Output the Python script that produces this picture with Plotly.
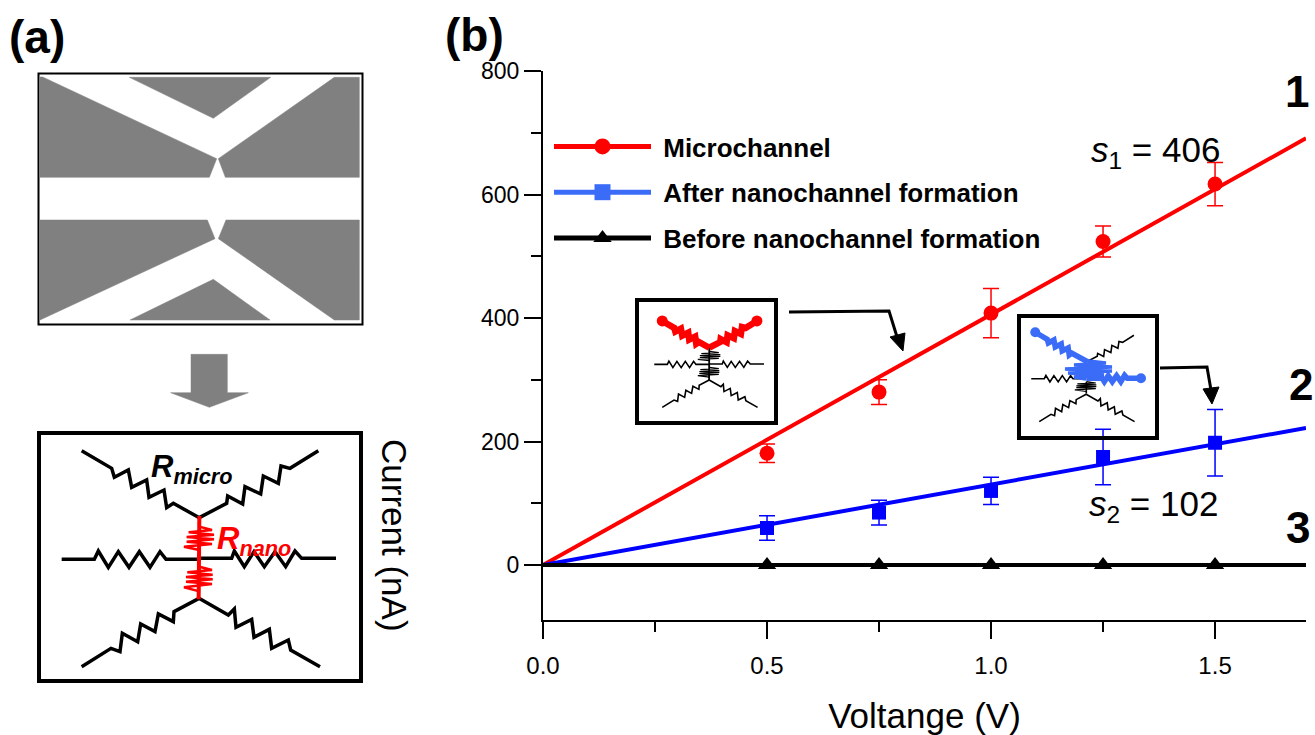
import plotly.graph_objects as go

W, H = 1315, 735
# ---- data ----
voltage = [0.5, 0.75, 1.0, 1.25, 1.5]
micro_current = [181, 280, 408, 524, 617]
micro_err = [15, 20, 40, 25, 35]
after_current = [60, 85, 120, 175, 198]
after_err = [20, 20, 22, 45, 54]
before_current = [0, 0, 0, 0, 0]
fit_x = [0, 1.703]
micro_fit = [0, 691]
after_fit = [0, 222]
before_fit = [0, 0]
legend_names = ["Microchannel", "After nanochannel formation", "Before nanochannel formation"]

RED, BLUE, LBLUE, GRAY = "#ff0000", "#0000ff", "#3a6cf8", "#808080"

# ---- schematic geometry (panel a, zoom units) ----
chip_polys = [
    [(120,231),(128,231),(650,476),(628,532),(120,532)],
    [(388,232),(812,232),(640,355)],
    [(1003,232),(1078,232),(1078,532),(676,532),(655,476)],
    [(120,660),(622,660),(645,716),(120,960)],
    [(390,960),(640,838),(810,960)],
    [(678,660),(1078,660),(1078,960),(1003,960),(655,716)],
]
arrow_poly = [(573,1063),(682,1063),(682,1178),(745,1178),(628,1222),(512,1178),(573,1178)]
res_tl = [(245,182),(335,235),(343,262),(385,240),(395,292),(440,270),(447,322),(492,300),(500,353),(520,340),(598,383)]
res_tr = [(598,383),(680,340),(683,318),(728,342),(735,290),(782,312),(790,258),(835,280),(843,228),(870,235),(955,182)]
res_l = [(185,508),(283,508),(295,483),(325,532),(355,485),(387,532),(418,485),(450,532),(480,485),(498,508),(598,508)]
res_r = [(598,505),(695,505),(703,483),(733,530),(762,485),(793,530),(825,485),(857,530),(885,483),(905,505),(1008,505)]
res_bl = [(245,830),(333,775),(360,785),(367,730),(413,755),(422,702),(465,725),(475,672),(520,695),(522,665),(597,625)]
res_br = [(597,625),(685,675),(703,657),(708,712),(755,688),(762,742),(808,718),(815,775),(865,750),(872,780),(960,830)]
nano_trunk = [(598,378),(596,628)]
nano_a = [(598,410),(636,420),(566,427),(642,434),(560,441),(642,448),(560,455),(636,462),(552,470),(598,480)]
nano_b = [(598,530),(636,540),(562,547),(638,554),(558,561),(638,568),(558,575),(636,582),(552,592),(598,604)]

def xf(v): return v / W
def yf(v): return 1 - v / H
def z1(p): return (p[0] / 3, p[1] / 3)
def z2(p): return (p[0] / 3, 390 + p[1] / 3)

shapes = []
def path(pts, color="black", width=2, fill=None, close=False):
    d = "M" + "L".join(f"{xf(x):.5f},{yf(y):.5f}" for x, y in pts) + ("Z" if close else "")
    s = dict(type="path", path=d, xref="paper", yref="paper", line=dict(color=color, width=width))
    if fill:
        s["fillcolor"] = fill
    shapes.append(s)
def rect(x0, y0, x1, y1, width=4, color="black"):
    shapes.append(dict(type="rect", xref="paper", yref="paper", x0=xf(x0), x1=xf(x1), y0=yf(y0), y1=yf(y1),
                       line=dict(color=color, width=width)))
def dot(x, y, r, color):
    shapes.append(dict(type="circle", xref="paper", yref="paper", x0=xf(x-r), x1=xf(x+r), y0=yf(y+r), y1=yf(y-r),
                       line=dict(color=color, width=0), fillcolor=color))

# panel a: chip
rect(38.5, 73.5, 362.5, 324.5, 2)
for poly in chip_polys:
    path([z1(p) for p in poly], GRAY, 0.5, GRAY, True)
path([z1(p) for p in arrow_poly], GRAY, 0.5, GRAY, True)
# panel a: circuit
rect(39, 433, 361, 681, 4)
for r in (res_tl, res_tr, res_l, res_r, res_bl, res_br):
    path([z2(p) for p in r], "black", 3.5)
path([z2(p) for p in nano_trunk], RED, 4)
path([z2(p) for p in nano_a], RED, 2.5)
path([z2(p) for p in nano_b], RED, 2.5)

def inset(p, cx, cy, s=0.4, sx=None):
    px, py = z2(p)
    return (cx + (px - 199.3) * (sx or s), cy + (py - 558.3) * s)

# inset 1
c1 = (709.3, 364)
rect(637, 300, 776, 423, 4)
for r in (res_l, res_r, res_bl, res_br):
    path([inset(p, *c1) for p in r], "black", 1.6)
path([inset(p, *c1) for p in nano_trunk], "black", 1.8)
for n in (nano_a, nano_b):
    path([inset(p, *c1, sx=0.75) for p in n], "black", 1.2)
for r in (res_tl, res_tr):
    pts = [inset(p, *c1) for p in r]
    path(pts, RED, 6.5)
    tip = pts[0] if r is res_tl else pts[-1]
    dot(tip[0], tip[1], 5.5, RED)
path([(789,312),(889,311),(898,340)], "black", 3)
path([(890,337),(905,333),(903,351)], "black", 1, "black", True)

# inset 2
c2 = (1086.3, 378.3)
rect(1019, 316, 1157, 438, 4)
for r in (res_tr, res_l, res_bl, res_br):
    path([inset(p, *c2) for p in r], "black", 1.6)
path([inset(p, *c2, sx=0.75) for p in nano_b], "black", 1.2)
path([inset(p, *c2) for p in [(598,532),(598,620)]], "black", 1.6)
tl2 = [inset(p, *c2) for p in res_tl]
tl2 = [(x - 4, y - 3) for x, y in tl2]
path(tl2[:-1] + [(1088, 362)], LBLUE, 5.5)
dot(tl2[0][0], tl2[0][1], 5, LBLUE)
r2 = [inset(p, *c2) for p in res_r]
path(r2[:-1] + [(1141, r2[-1][1])], LBLUE, 5.5)
dot(1141, r2[-1][1], 5, LBLUE)
path([(1088,361),(1106,363),(1074,365),(1112,367),(1065,369),(1112,371),(1068,373),(1104,375),(1074,377),(1086,379)], LBLUE, 3.5)
path([(1160,368),(1207,367),(1211,390)], "black", 3)
path([(1203,389),(1219,387),(1212,404)], "black", 1, "black", True)

# ---- annotations ----
def note(text, x, y, size, color="black", xanchor="left", angle=0, bold=False):
    return dict(text=text, x=xf(x), y=yf(y), xref="paper", yref="paper", showarrow=False, textangle=angle,
                xanchor=xanchor, yanchor="middle", borderpad=0,
                font=dict(family="Liberation Sans", size=size, color=color, weight=700 if bold else 400))

annotations = [
    note("(a)", 8, 37, 46, bold=True),
    note("(b)", 444, 35, 46, bold=True),
    note("1", 1297, 92, 44, xanchor="center", bold=True),
    note("2", 1301, 384, 44, xanchor="center", bold=True),
    note("3", 1298, 527, 44, xanchor="center", bold=True),
    note("<i>s</i><sub>1</sub> = 406", 1090, 152, 35),
    note("<i>s</i><sub>2</sub> = 102", 1088, 506, 35),
    note("<i>R<sub>micro</sub></i>", 150, 469, 31, bold=True),
    note("<i>R<sub>nano</sub></i>", 216, 541, 31, RED, bold=True),
    note("Current (nA)", 395, 535, 35, xanchor="center", angle=90),
]

# ---- traces ----
fig = go.Figure()
for fit, col in ((micro_fit, RED), (after_fit, BLUE), (before_fit, "black")):
    fig.add_trace(go.Scatter(x=fit_x, y=fit, mode="lines", line=dict(color=col, width=4), showlegend=False, hoverinfo="skip"))
fig.add_trace(go.Scatter(x=voltage, y=micro_current, mode="markers", showlegend=False,
                         marker=dict(symbol="circle", size=15, color=RED),
                         error_y=dict(type="data", array=micro_err, color=RED, thickness=1.5, width=8)))
fig.add_trace(go.Scatter(x=voltage, y=after_current, mode="markers", showlegend=False,
                         marker=dict(symbol="square", size=14, color=BLUE),
                         error_y=dict(type="data", array=after_err, color=BLUE, thickness=1.5, width=8)))
fig.add_trace(go.Scatter(x=voltage, y=before_current, mode="markers", showlegend=False,
                         marker=dict(symbol="triangle-up", size=16, color="black")))
# legend entries
for name, col, sym in zip(legend_names, (RED, LBLUE, "black"), ("circle", "square", "triangle-up")):
    fig.add_trace(go.Scatter(x=[None], y=[None], mode="lines+markers", name="\u00a0" + name, legendgroup=name,
                             line=dict(color=col, width=5), marker=dict(symbol=sym, size=18, color=col)))

axis_common = dict(showgrid=False, zeroline=False, showline=True, linecolor="black", linewidth=2,
                   ticks="outside", ticklen=17, tickwidth=2, tickcolor="black")
fig.update_layout(
    width=W, height=H, margin=dict(l=0, r=0, t=0, b=0, autoexpand=False), paper_bgcolor="white", plot_bgcolor="rgba(0,0,0,0)",
    shapes=shapes, annotations=annotations, hovermode=False,
    xaxis=dict(domain=[543 / W, 1306 / W], range=[0, 1.703], tick0=0, dtick=0.5, tickformat=".1f", ticklabelstandoff=6,
               tickfont=dict(family="Liberation Sans", size=24, color="black"),
               minor=dict(dtick=0.25, ticks="outside", ticklen=10, tickwidth=2, tickcolor="black"),
               title=dict(text="Voltange (V)", standoff=26, font=dict(family="Liberation Sans", size=35, color="black")),
               anchor="y", **axis_common),
    yaxis=dict(domain=[1 - 620 / H, 1 - 71 / H], range=[-89, 800], tick0=0, dtick=200,
               tickfont=dict(family="Liberation Sans", size=23, color="black"),
               minor=dict(dtick=100, ticks="outside", ticklen=10, tickwidth=2, tickcolor="black"),
               anchor="x", **axis_common),
    legend=dict(x=xf(549), y=yf(123), xanchor="left", yanchor="top", bgcolor="rgba(0,0,0,0)", itemwidth=97,
                traceorder="grouped", tracegroupgap=9, itemclick=False, itemdoubleclick=False,
                font=dict(family="Liberation Sans", size=26, color="black", weight=700)),
)
fig.write_html("out.html", config=dict(displayModeBar=False),
               post_script="document.body.style.margin='0';document.body.style.overflow='hidden';")
